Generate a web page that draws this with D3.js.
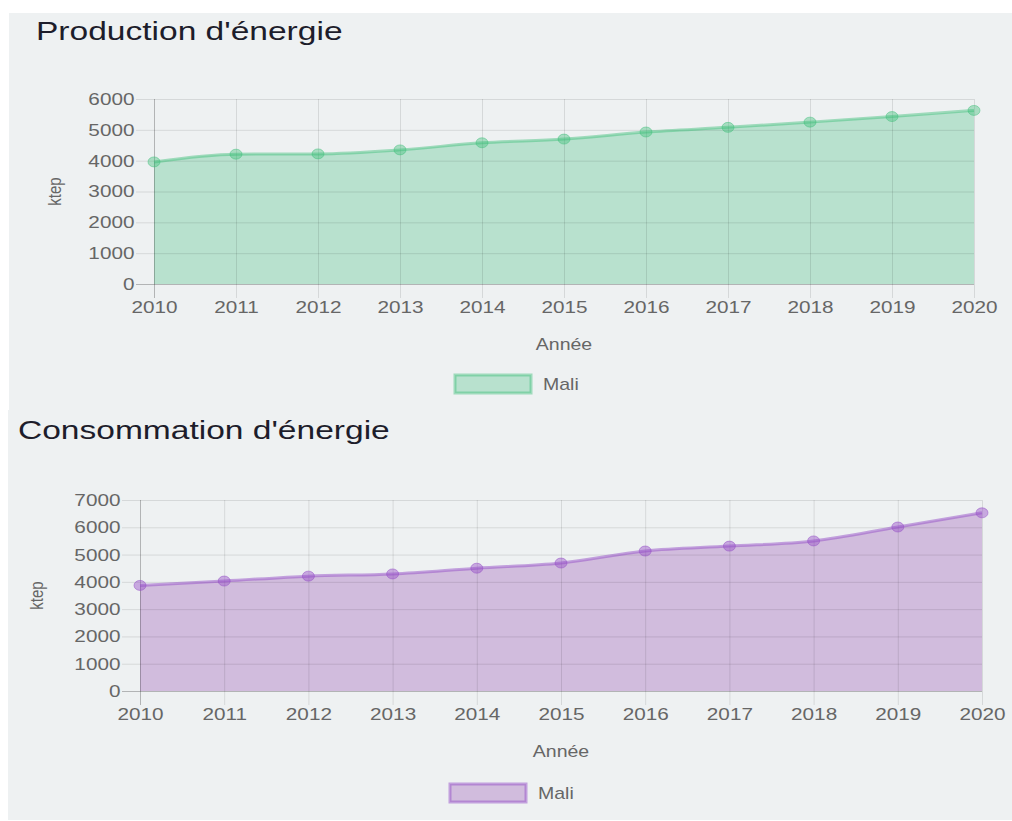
<!DOCTYPE html>
<html>
<head>
<meta charset="utf-8">
<script src="https://cdn.jsdelivr.net/npm/d3@7"></script>
<style>
  body { margin: 0; background: #fff; }
  svg { display: block; }
  text { font-family: "Liberation Sans", Arial, sans-serif; }
</style>
</head>
<body>
<script>
// data
var years = [2010, 2011, 2012, 2013, 2014, 2015, 2016, 2017, 2018, 2019, 2020];
var production = [3960, 4210, 4220, 4350, 4580, 4700, 4930, 5080, 5250, 5430, 5630];
var consumption = [3870, 4030, 4210, 4290, 4500, 4690, 5130, 5310, 5500, 6010, 6530];
var prodTicks = [0, 1000, 2000, 3000, 4000, 5000, 6000];
var consTicks = [0, 1000, 2000, 3000, 4000, 5000, 6000, 7000];
var seriesName = "Mali";

var width = 1012, height = 821;
var sx = "scale(1.22,1)"; // the picture is a bit wide, stretch the text too

var svg = d3.select("body").append("svg")
    .attr("width", width)
    .attr("height", height);

// panel backgrounds
svg.append("rect").attr("x", 9).attr("y", 13).attr("width", width - 9).attr("height", 397).attr("fill", "#eef1f2");
svg.append("rect").attr("x", 8).attr("y", 410).attr("width", width - 8).attr("height", 410).attr("fill", "#eef1f2");

function drawChart(opt) {
  var g = svg.append("g");

  var x = d3.scalePoint().domain(years).range([opt.x0, opt.x1]);
  var y = d3.scaleLinear().domain([0, opt.max]).range([opt.y0, opt.yTop]);
  var pts = years.map(function(d, i) { return {year: d, val: opt.values[i]}; });

  g.append("text")
      .attr("transform", "translate(" + opt.titleX + "," + opt.titleY + ") scale(1.29,1)")
      .attr("font-size", 26)
      .attr("fill", "#1d1d2b")
      .text(opt.title);

  var area = d3.area()
      .x(function(d) { return x(d.year); })
      .y0(y(0))
      .y1(function(d) { return y(d.val); })
      .curve(d3.curveMonotoneX);
  g.append("path").attr("d", area(pts)).attr("fill", opt.fill);

  // y axis + horizontal grid
  var yAxis = d3.axisLeft(y).tickValues(opt.ticks).tickFormat(d3.format("d")).tickSize(0).tickPadding(22);
  var ya = g.append("g").attr("transform", "translate(" + opt.x0 + ",0)").call(yAxis);
  ya.select(".domain").remove();
  ya.selectAll(".tick line")
      .attr("x1", -18)
      .attr("x2", opt.x1 - opt.x0)
      .attr("stroke", function(d) { return d === 0 ? "rgba(0,0,0,0.25)" : "rgba(0,0,0,0.1)"; });
  ya.selectAll(".tick text")
      .attr("transform", sx)
      .attr("x", -16)
      .attr("font-size", 17)
      .attr("fill", "#666");

  // x axis + vertical grid
  var xAxis = d3.axisBottom(x).tickSize(0).tickPadding(0);
  var xa = g.append("g").attr("transform", "translate(0," + opt.y0 + ")").call(xAxis);
  xa.select(".domain").remove();
  xa.selectAll(".tick line")
      .attr("y1", 14)
      .attr("y2", opt.yTop - opt.y0)
      .attr("stroke", function(d) { return d === years[0] ? "rgba(0,0,0,0.25)" : "rgba(0,0,0,0.1)"; });
  xa.selectAll(".tick text")
      .attr("transform", sx)
      .attr("y", 17)
      .attr("font-size", 17)
      .attr("fill", "#666");

  var line = d3.line()
      .x(function(d) { return x(d.year); })
      .y(function(d) { return y(d.val); })
      .curve(d3.curveMonotoneX);
  g.append("path").attr("d", line(pts))
      .attr("fill", "none")
      .attr("stroke", opt.stroke)
      .attr("stroke-width", 3);

  g.selectAll(".pt").data(pts).enter().append("ellipse")
      .attr("class", "pt")
      .attr("cx", function(d) { return x(d.year); })
      .attr("cy", function(d) { return y(d.val); })
      .attr("rx", 6)
      .attr("ry", 5)
      .attr("fill", opt.point)
      .attr("stroke", opt.stroke)
      .attr("stroke-width", 1);

  // axis titles
  g.append("text")
      .attr("transform", "translate(" + opt.yLabelX + "," + (opt.y0 + opt.yTop) / 2 + ") rotate(-90) scale(1,1.22)")
      .attr("text-anchor", "middle")
      .attr("dy", "0.35em")
      .attr("font-size", 15)
      .attr("fill", "#666")
      .text("ktep");

  g.append("text")
      .attr("transform", "translate(" + (opt.x0 + opt.x1) / 2 + "," + opt.xLabelY + ") " + sx)
      .attr("text-anchor", "middle")
      .attr("dy", "0.35em")
      .attr("font-size", 16)
      .attr("fill", "#666")
      .text("Année");

  // legend
  g.append("rect")
      .attr("x", opt.legX).attr("y", opt.legY - 9)
      .attr("width", 76).attr("height", 18)
      .attr("fill", opt.fill)
      .attr("stroke", opt.stroke)
      .attr("stroke-width", 3);
  g.append("text")
      .attr("transform", "translate(" + (opt.legX + 88) + "," + opt.legY + ") " + sx)
      .attr("dy", "0.35em")
      .attr("font-size", 16)
      .attr("fill", "#666")
      .text(seriesName);
}

drawChart({
  title: "Production d'énergie", titleX: 36, titleY: 40,
  values: production, ticks: prodTicks, max: 6000,
  x0: 154, x1: 974, y0: 284, yTop: 99,
  yLabelX: 55, xLabelY: 344, legX: 455, legY: 384,
  fill: "rgba(46,184,114,0.28)", stroke: "rgba(60,190,120,0.45)", point: "rgba(60,190,120,0.4)"
});

drawChart({
  title: "Consommation d'énergie", titleX: 18, titleY: 439,
  values: consumption, ticks: consTicks, max: 7000,
  x0: 140, x1: 982, y0: 691, yTop: 500,
  yLabelX: 37, xLabelY: 751, legX: 450, legY: 793,
  fill: "rgba(155,89,182,0.35)", stroke: "rgba(150,80,200,0.5)", point: "rgba(150,80,200,0.45)"
});
</script>
</body>
</html>
